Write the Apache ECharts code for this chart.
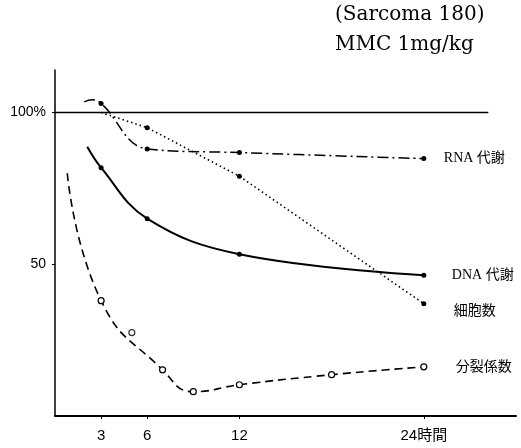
<!DOCTYPE html>
<html><head><meta charset="utf-8">
<script src="https://cdn.jsdelivr.net/npm/echarts@6/dist/echarts.min.js"></script>
<style>html,body{margin:0;padding:0;background:#fff}#c{width:521px;height:448px}</style>
</head><body><div id="c"></div>
<script>
// ---- data ----
const titleLines = ['(Sarcoma 180)', 'MMC 1mg/kg'];
const xTicks = [3, 6, 12, 24];
const xTickLabels = ['3', '6', '12', '24時間'];
const yTicks = [50, 100];
const yTickLabels = ['50', '100%'];
const refLine = [[0, 100], [28.2, 100]];

const rnaName = 'RNA 代謝';
const rnaData = [[1.9, 103.5], [2.4, 104.2], [3, 103], [6, 88], [12, 86.8], [24, 84.8]];
const rnaMarked = [false, false, true, true, true, true];

const cellName = '細胞数';
const cellData = [[3, 100], [6, 95], [12, 79], [24, 37]];
const cellMarked = [false, true, true, true];

const dnaName = 'DNA 代謝';
const dnaData = [[2.1, 88.7], [3, 81.8], [6, 65], [12, 53.3], [24, 46.4]];
const dnaMarked = [false, true, true, true, true];

const mitName = '分裂係数';
const mitData = [[0.8, 80], [3, 38], [7, 15.2], [9, 8], [12, 10.3], [18, 13.6], [24, 16.2]];
const mitMarked = [false, true, true, true, true, true, true];
const mitOutlier = [[5, 27.5]];

// ---- chart ----
const serif = '"Liberation Serif", "Noto Sans CJK JP", serif';
const sans = '"Liberation Sans Narrow", "Liberation Sans", "Noto Sans CJK JP", sans-serif';

function items(data, marked, size) {
  return data.map((v, i) => ({ value: v, symbolSize: marked[i] ? size : 0 }));
}
function labelStyle(dist, dy) {
  return { show: true, formatter: p => p.seriesName, distance: dist, offset: [0, dy],
    color: '#000', fontFamily: serif, fontSize: 14, align: 'left' };
}

const chart = echarts.init(document.getElementById('c'), null, { renderer: 'canvas' });
chart.setOption({
  animation: false,
  backgroundColor: '#fff',
  graphic: titleLines.map((t, i) => ({
    type: 'text', left: 335, top: 5 + i * 30,
    style: { text: t, fill: '#000', font: '20px "DejaVu Serif", serif' }
  })),
  grid: { left: 55, right: 5, top: 70, bottom: 32 },
  xAxis: {
    type: 'value', min: 0, max: 30,
    axisLine: { show: true, lineStyle: { color: '#000', width: 2 } },
    axisTick: { show: true, customValues: xTicks, length: 3, inside: false, lineStyle: { color: '#000' } },
    axisLabel: { customValues: xTicks, margin: 12, color: '#000', fontFamily: sans, fontSize: 15,
      formatter: v => xTickLabels[xTicks.indexOf(v)] },
    splitLine: { show: false }
  },
  yAxis: {
    type: 'value', min: 0, max: 114,
    axisLine: { show: true, lineStyle: { color: '#000', width: 1.5 } },
    axisTick: { show: true, customValues: yTicks, length: 3, lineStyle: { color: '#000' } },
    axisLabel: { customValues: yTicks, margin: 9, color: '#000', fontFamily: sans, fontSize: 14,
      formatter: v => yTickLabels[yTicks.indexOf(v)] },
    splitLine: { show: false }
  },
  series: [
    { type: 'line', name: 'ref', data: refLine, symbol: 'none',
      lineStyle: { color: '#000', width: 1.5 } },
    { type: 'line', name: rnaName, data: items(rnaData, rnaMarked, 5), smooth: 0.4,
      symbol: 'circle', itemStyle: { color: '#000' },
      lineStyle: { color: '#000', width: 1.5, type: [11, 4, 2, 4] },
      endLabel: labelStyle(20, 0) },
    { type: 'line', name: cellName, data: items(cellData, cellMarked, 5),
      symbol: 'circle', itemStyle: { color: '#000' },
      lineStyle: { color: '#000', width: 1.6, type: [1.5, 3] },
      endLabel: labelStyle(30, 8) },
    { type: 'line', name: dnaName, data: items(dnaData, dnaMarked, 5), smooth: 0.4,
      symbol: 'circle', itemStyle: { color: '#000' },
      lineStyle: { color: '#000', width: 2 },
      endLabel: labelStyle(28, 0) },
    { type: 'line', name: mitName, data: items(mitData, mitMarked, 6), smooth: 0.5,
      symbol: 'circle', itemStyle: { color: '#fff', borderColor: '#000', borderWidth: 1.2 },
      lineStyle: { color: '#000', width: 1.6, type: [8, 5] },
      endLabel: labelStyle(32, 0) },
    { type: 'scatter', name: 'outlier', data: mitOutlier, symbol: 'circle', symbolSize: 6,
      itemStyle: { color: '#fff', borderColor: '#000', borderWidth: 1.2 } }
  ]
});
</script></body></html>
